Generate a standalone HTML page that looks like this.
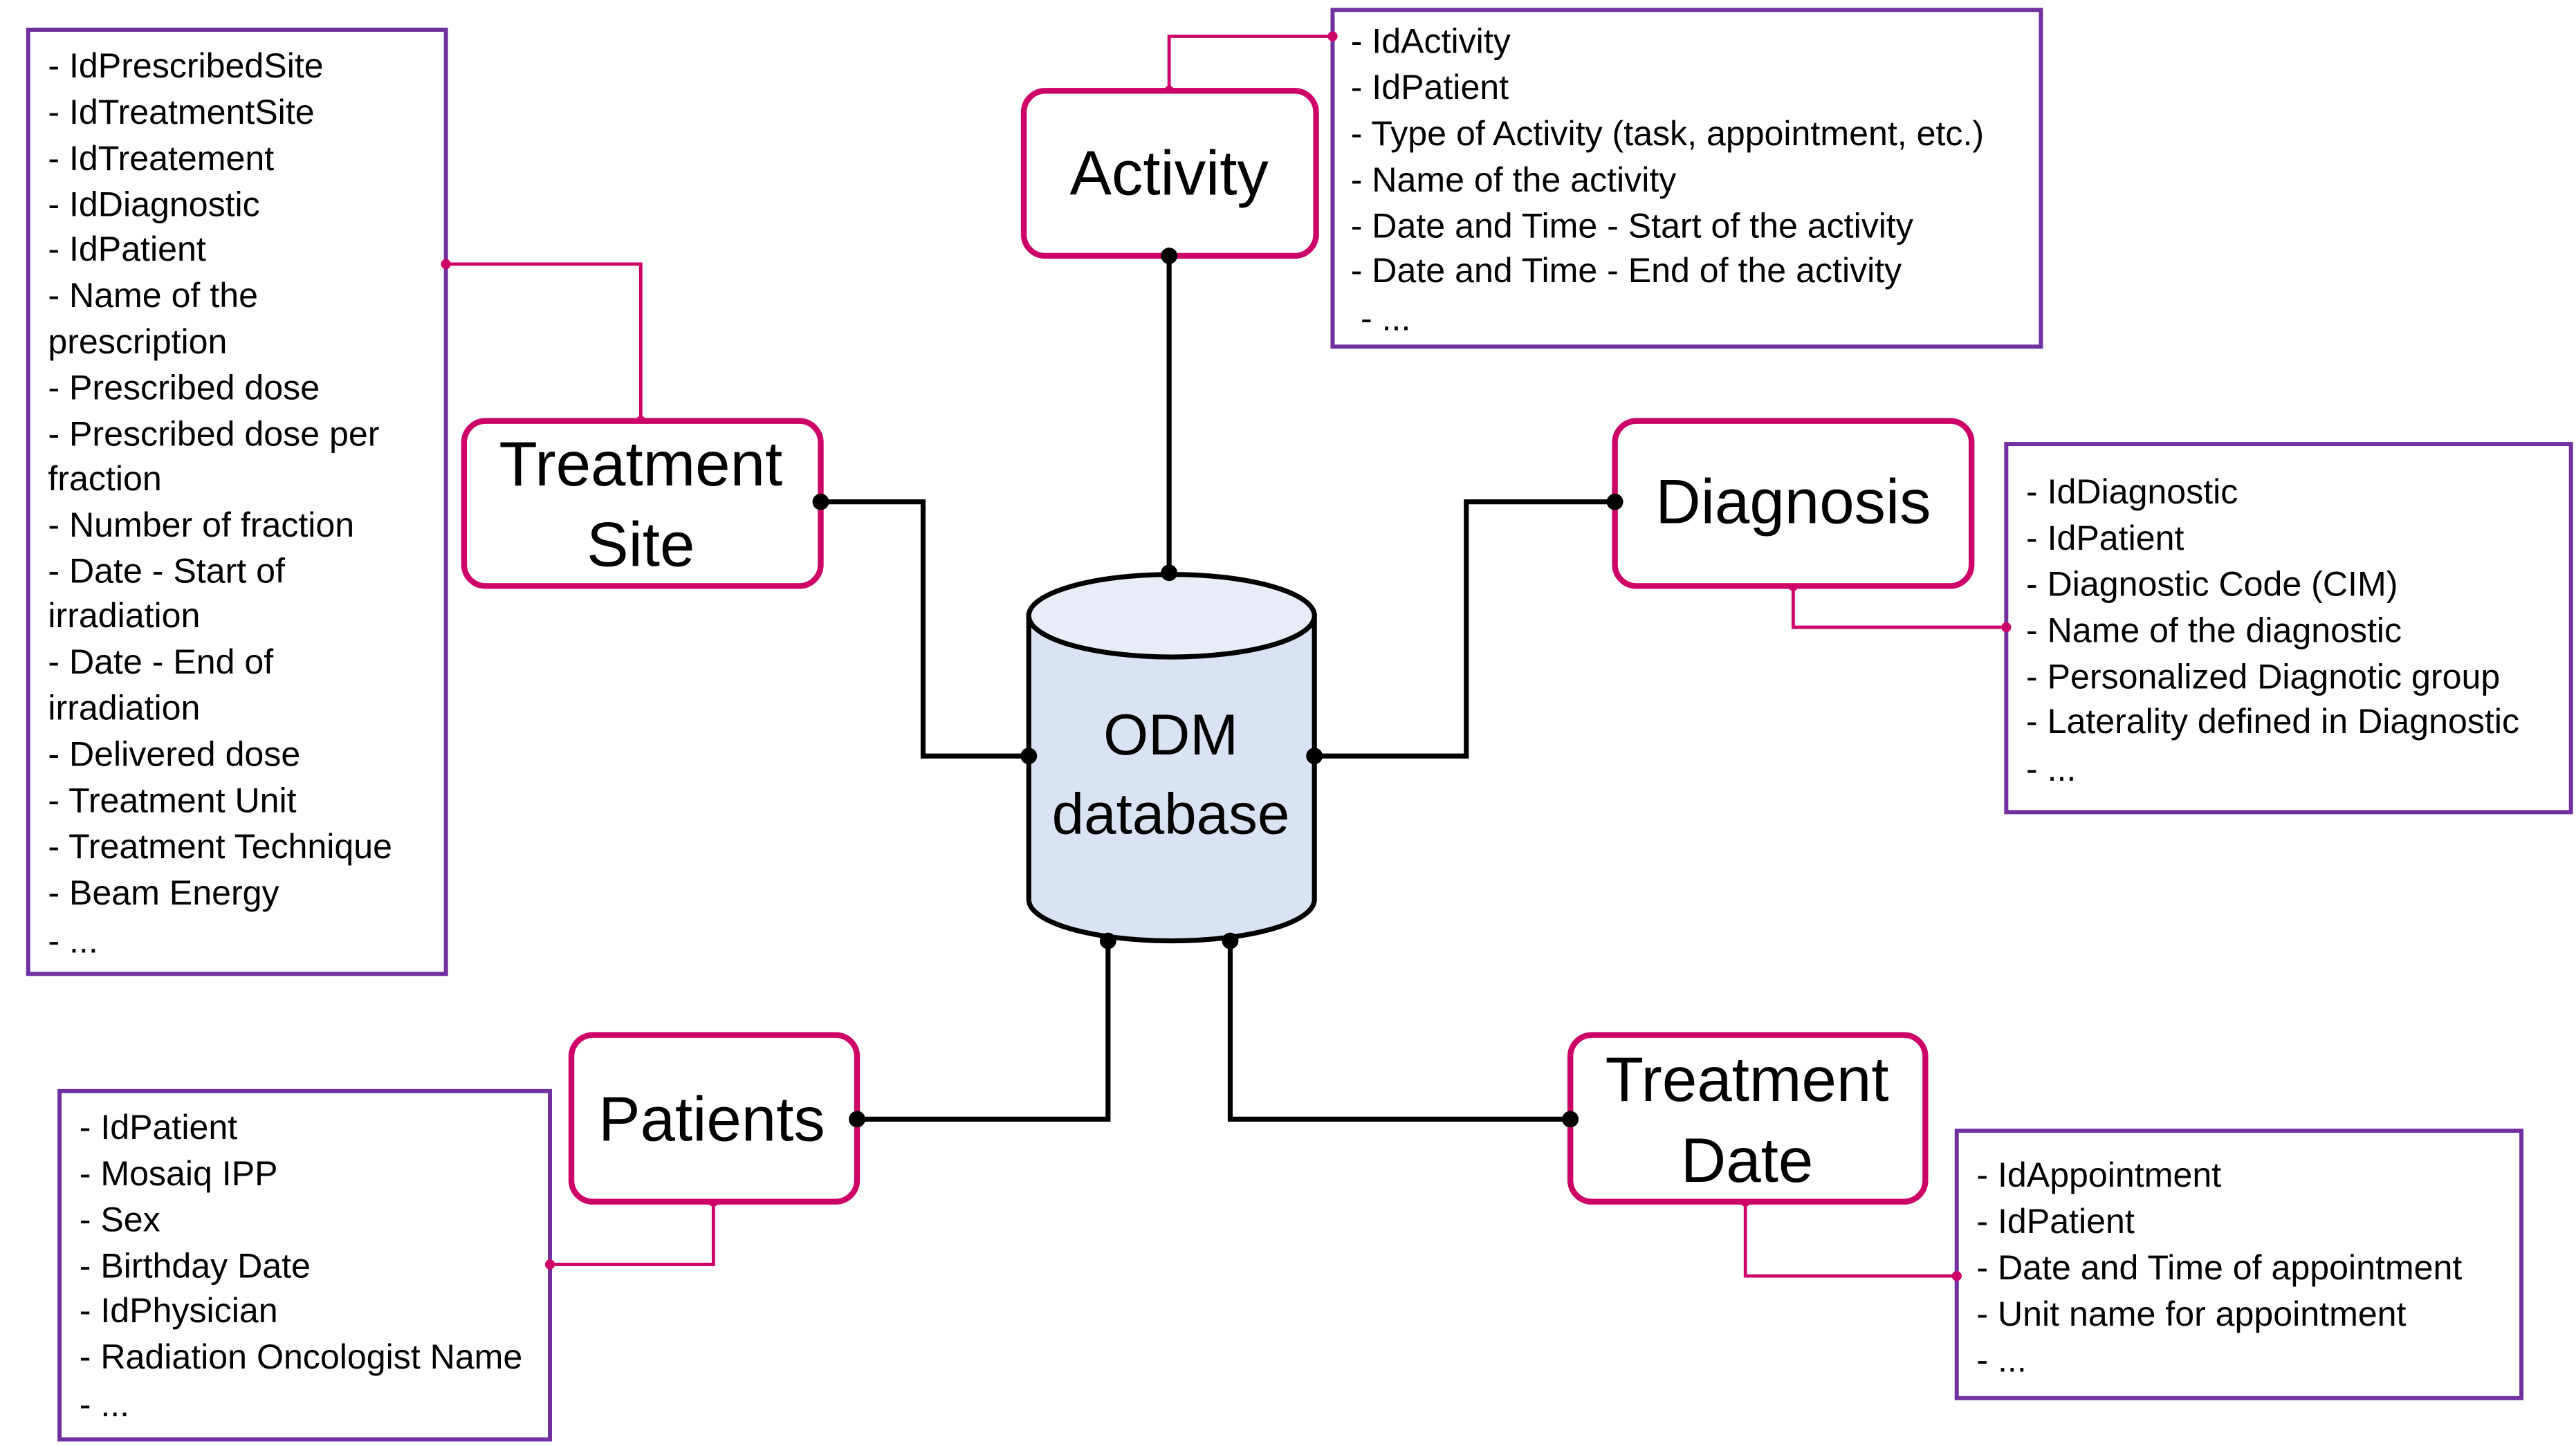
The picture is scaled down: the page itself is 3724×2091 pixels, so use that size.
<!DOCTYPE html>
<html><head><meta charset="utf-8"><style>
html,body{margin:0;padding:0;background:#fff;}
svg{display:block;}
text{font-family:"Liberation Sans",sans-serif;fill:#000;}
.l{font-size:21px;}
.n{font-size:38px;text-anchor:middle;}
</style></head><body>
<svg width="3724" height="2091" viewBox="0 0 1560 876" xmlns="http://www.w3.org/2000/svg">
<rect width="1560" height="876" fill="#fff"/>
<g fill="none" stroke="#7030a0" stroke-width="2.5">
<rect x="17" y="18" width="253" height="572"/>
<rect x="807" y="6" width="429" height="204"/>
<rect x="1215" y="269" width="342" height="223"/>
<rect x="36" y="661" width="297" height="211"/>
<rect x="1185" y="685" width="342" height="162"/>
</g>
<g fill="none" stroke="#cc0066" stroke-width="2">
<polyline points="708,55 708,22 807,22"/>
<polyline points="270,160 388,160 388,255"/>
<polyline points="1086,355 1086,380 1215,380"/>
<polyline points="432,728 432,766 333,766"/>
<polyline points="1057,728 1057,773 1185,773"/>
</g>
<g fill="#cc0066">
<circle cx="708" cy="55" r="3"/><circle cx="807" cy="22" r="3"/>
<circle cx="270" cy="160" r="3"/><circle cx="388" cy="255" r="3"/>
<circle cx="1086" cy="355" r="3"/><circle cx="1215" cy="380" r="3"/>
<circle cx="432" cy="728" r="3"/><circle cx="333" cy="766" r="3"/>
<circle cx="1057" cy="728" r="3"/><circle cx="1185" cy="773" r="3"/>
</g>
<g fill="none" stroke="#000" stroke-width="3">
<line x1="708" y1="155" x2="708" y2="347"/>
<polyline points="497,304 559,304 559,458 623,458"/>
<polyline points="978,304 888,304 888,458 796,458"/>
<polyline points="671,570 671,678 519,678"/>
<polyline points="745,570 745,678 951,678"/>
</g>
<path d="M623,373 L623,545 A86.5,25 0 0 0 796,545 L796,373 Z" fill="#dae3f3" stroke="#000" stroke-width="3"/>
<ellipse cx="709.5" cy="373" rx="86.5" ry="25" fill="#e9edf7" stroke="#000" stroke-width="3"/>
<text x="709" y="457" class="n" style="font-size:35px">ODM</text>
<text x="709" y="505" class="n" style="font-size:35px">database</text>
<g fill="#fff" stroke="#cc0066" stroke-width="3.5">
<rect x="620" y="55" width="177" height="100" rx="13"/>
<rect x="281" y="255" width="216" height="100" rx="13"/>
<rect x="978" y="255" width="216" height="100" rx="13"/>
<rect x="346" y="627" width="173" height="101" rx="13"/>
<rect x="951" y="627" width="215" height="101" rx="13"/>
</g>
<text x="708" y="118" class="n">Activity</text>
<text x="388" y="294" class="n">Treatment</text>
<text x="388" y="343" class="n">Site</text>
<text x="1086" y="317" class="n">Diagnosis</text>
<text x="431" y="691" class="n">Patients</text>
<text x="1058" y="667" class="n">Treatment</text>
<text x="1058" y="716" class="n">Date</text>
<g fill="#000">
<circle cx="708" cy="155" r="5"/><circle cx="708" cy="347" r="5"/>
<circle cx="497" cy="304" r="5"/><circle cx="623" cy="458" r="5"/>
<circle cx="978" cy="304" r="5"/><circle cx="796" cy="458" r="5"/>
<circle cx="671" cy="570" r="5"/><circle cx="519" cy="678" r="5"/>
<circle cx="745" cy="570" r="5"/><circle cx="951" cy="678" r="5"/>
</g>
<g class="l">
<text x="29" y="47" class="l">- IdPrescribedSite</text>
<text x="29" y="75" class="l">- IdTreatmentSite</text>
<text x="29" y="103" class="l">- IdTreatement</text>
<text x="29" y="131" class="l">- IdDiagnostic</text>
<text x="29" y="158" class="l">- IdPatient</text>
<text x="29" y="186" class="l">- Name of the</text>
<text x="29" y="214" class="l">prescription</text>
<text x="29" y="242" class="l">- Prescribed dose</text>
<text x="29" y="270" class="l">- Prescribed dose per</text>
<text x="29" y="297" class="l">fraction</text>
<text x="29" y="325" class="l">- Number of fraction</text>
<text x="29" y="353" class="l">- Date - Start of</text>
<text x="29" y="380" class="l">irradiation</text>
<text x="29" y="408" class="l">- Date - End of</text>
<text x="29" y="436" class="l">irradiation</text>
<text x="29" y="464" class="l">- Delivered dose</text>
<text x="29" y="492" class="l">- Treatment Unit</text>
<text x="29" y="520" class="l">- Treatment Technique</text>
<text x="29" y="548" class="l">- Beam Energy</text>
<text x="29" y="577" class="l">- ...</text>

<text x="818" y="32" class="l">- IdActivity</text>
<text x="818" y="60" class="l">- IdPatient</text>
<text x="818" y="88" class="l">- Type of Activity (task, appointment, etc.)</text>
<text x="818" y="116" class="l">- Name of the activity</text>
<text x="818" y="144" class="l">- Date and Time - Start of the activity</text>
<text x="818" y="171" class="l">- Date and Time - End of the activity</text>
<text x="824" y="200" class="l">- ...</text>

<text x="1227" y="305" class="l">- IdDiagnostic</text>
<text x="1227" y="333" class="l">- IdPatient</text>
<text x="1227" y="361" class="l">- Diagnostic Code (CIM)</text>
<text x="1227" y="389" class="l">- Name of the diagnostic</text>
<text x="1227" y="417" class="l">- Personalized Diagnotic group</text>
<text x="1227" y="444" class="l">- Laterality defined in Diagnostic</text>
<text x="1227" y="473" class="l">- ...</text>

<text x="48" y="690" class="l">- IdPatient</text>
<text x="48" y="718" class="l">- Mosaiq IPP</text>
<text x="48" y="746" class="l">- Sex</text>
<text x="48" y="774" class="l">- Birthday Date</text>
<text x="48" y="801" class="l">- IdPhysician</text>
<text x="48" y="829" class="l">- Radiation Oncologist Name</text>
<text x="48" y="858" class="l">- ...</text>

<text x="1197" y="719" class="l">- IdAppointment</text>
<text x="1197" y="747" class="l">- IdPatient</text>
<text x="1197" y="775" class="l">- Date and Time of appointment</text>
<text x="1197" y="803" class="l">- Unit name for appointment</text>
<text x="1197" y="831" class="l">- ...</text>
</g>
</svg>
</body></html>
